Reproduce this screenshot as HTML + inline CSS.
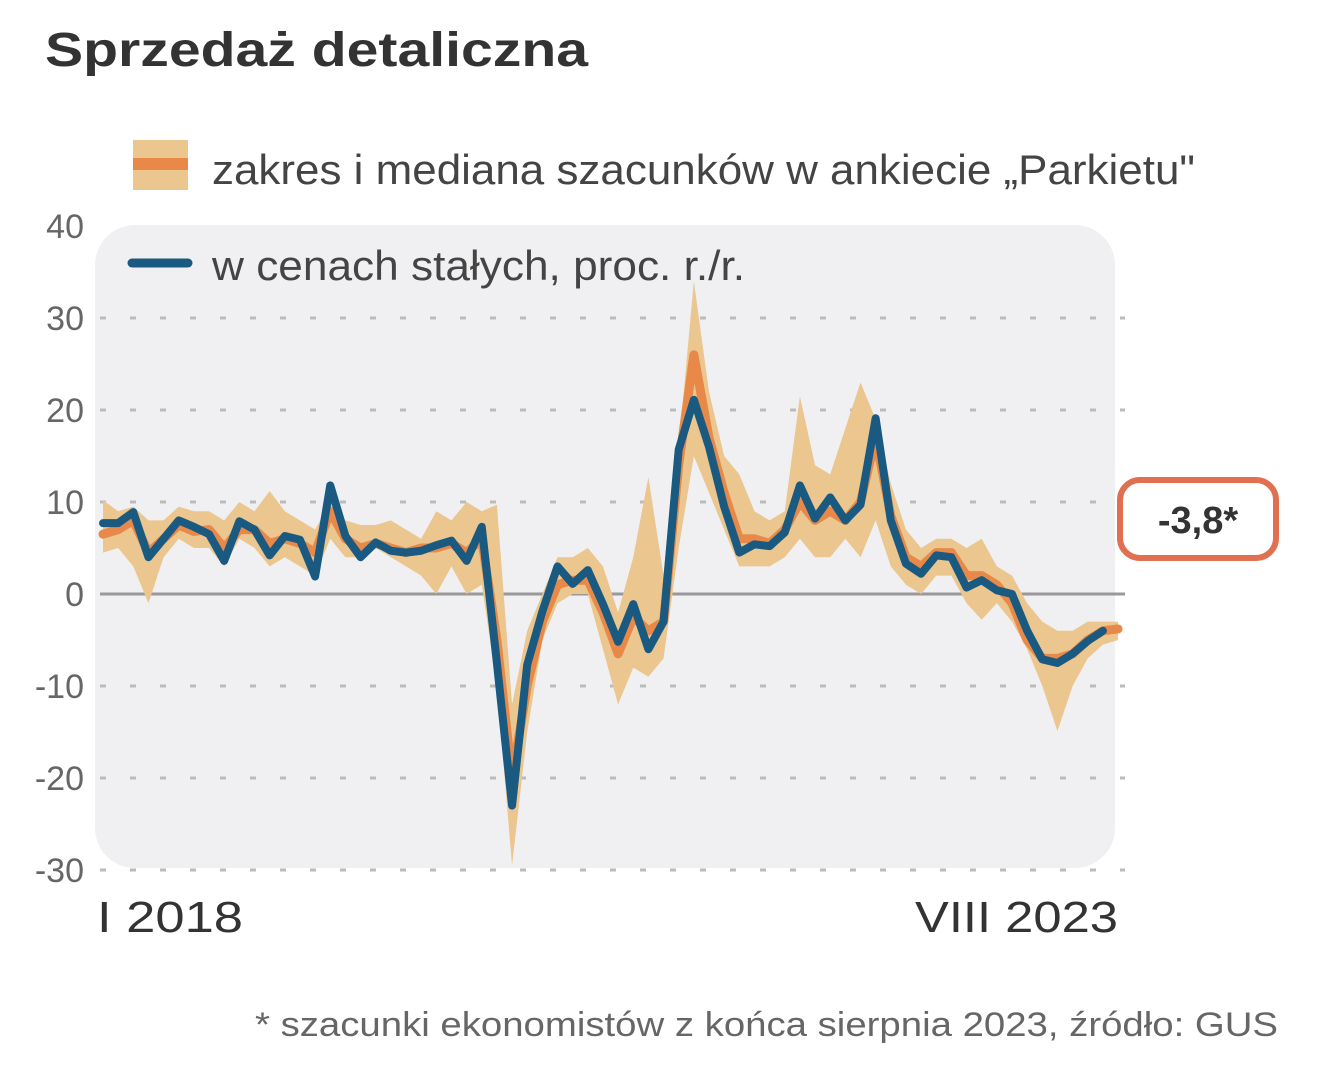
<!DOCTYPE html>
<html><head><meta charset="utf-8"><style>
body{margin:0;background:#fff;width:1318px;height:1080px;overflow:hidden;font-family:"Liberation Sans",sans-serif;}
svg{position:absolute;left:0;top:0}
</style></head><body>
<svg width="1318" height="1080">
<text x="45" y="66" font-weight="bold" font-size="48" fill="#333" textLength="543" lengthAdjust="spacingAndGlyphs">Sprzedaż detaliczna</text>
<rect x="95" y="225" width="1020" height="643" rx="40" fill="#f0f0f2"/>
<g id="grid"></g>
<g id="band"></g>
<g id="series"></g>
<g>
<rect x="133" y="140" width="55" height="50" fill="#ebc68e"/><rect x="133" y="158" width="55" height="12" fill="#e8894a"/>
<text x="212" y="184" font-size="42" fill="#444" textLength="983" lengthAdjust="spacingAndGlyphs">zakres i mediana szacunków w ankiecie „Parkietu"</text></g>
<g>
<line x1="132" y1="263" x2="188" y2="263" stroke="#1a5a80" stroke-width="9" stroke-linecap="round"/>
<text x="212" y="280" font-size="42" fill="#444" textLength="533" lengthAdjust="spacingAndGlyphs">w cenach stałych, proc. r./r.</text></g>
<g>
<rect x="1120" y="480" width="156" height="78" rx="20" fill="#fff" stroke="#e07050" stroke-width="6"/>
<text x="1198" y="533" text-anchor="middle" font-size="38" font-weight="bold" fill="#333">-3,8*</text></g>
<text x="97" y="932" font-size="44" fill="#333" textLength="146" lengthAdjust="spacingAndGlyphs">I 2018</text>
<text x="915" y="932" font-size="44" fill="#333" textLength="203" lengthAdjust="spacingAndGlyphs">VIII 2023</text>
<text x="255" y="1036" font-size="34" fill="#666" textLength="1023" lengthAdjust="spacingAndGlyphs">* szacunki ekonomistów z końca sierpnia 2023, źródło: GUS</text>
</svg>
<script>
const yTicks=[40,30,20,10,0,-10,-20,-30];
const actual=[7.7,7.7,8.9,4.0,6.0,8.0,7.3,6.5,3.6,7.9,7.0,4.2,6.3,5.9,1.9,11.8,6.3,4.0,5.6,4.7,4.5,4.7,5.3,5.8,3.6,7.3,-7.5,-23,-7.7,-1.9,3.0,1.1,2.6,-1.1,-5.2,-1.1,-6.0,-3.0,15.7,21.1,16,9.5,4.5,5.4,5.2,6.7,11.8,8.2,10.5,8.0,9.7,19.1,8.0,3.3,2.2,4.2,4.0,0.7,1.5,0.4,0.0,-4.0,-7.1,-7.5,-6.5,-5.1,-4.0];
const median=[6.5,7,8,4.5,6,7.5,6.8,7,5,7,7,5.5,6,5.5,4.5,9,6,5,5.5,5,4.5,5,5,5.5,4.5,6,-5,-20,-10,-3,1,1.5,1.5,-2,-6.5,-2.5,-4,-3,14,26,17,11,6,6,5.5,7,10,8,9,8,10,17,8.5,4,3,4.5,4.5,2,2,1,-1,-5,-7,-7,-6.5,-5,-4,-3.8];
const hi=[10.2,9,9.5,8,8,9.5,9,9,8,10,9,11.2,9,8,7,10,8,7.5,7.5,8,7,6,9,8,10,9,9.7,-12,-4,0,4,4,5,3,-2,4,12.7,2,16,34,22,15,13,9,8,9,21.5,14,13,18,23,19,12,7,5,6,6,5,6,3,2,-1,-3,-4,-4,-3,-3,-3];
const lo=[4.5,5,3,-1,4,6,5,5,3,6,5,3,4,3,2,6,4,4,5,4,3,2,0,3,0,1,-10,-29.5,-15,-5,-1,0,0,-6,-12,-8,-9,-7,5,15,11,7,3,3,3,4,6,4,4,6,4,8,3,1,0,2,2,-1,-2.8,-1,-3,-6,-10,-14.9,-10,-7,-5.5,-5];
const NS="http://www.w3.org/2000/svg";
const X=i=>103+i*15.15, Y=v=>594-v*9.2;
const grid=document.getElementById('grid');
yTicks.forEach(t=>{
  const tx=document.createElementNS(NS,'text');
  tx.setAttribute('x',84);tx.setAttribute('y',Y(t)+12);tx.setAttribute('text-anchor','end');
  tx.setAttribute('font-size','34');tx.setAttribute('fill','#666');tx.textContent=t;
  
  
  grid.appendChild(tx);
  if(t===40)return;
  const l=document.createElementNS(NS,'line');
  l.setAttribute('x1',100);l.setAttribute('x2',1125);l.setAttribute('y1',Y(t));l.setAttribute('y2',Y(t));
  if(t===0){l.setAttribute('stroke','#999');l.setAttribute('stroke-width','3');}
  else{l.setAttribute('stroke','#bbb');l.setAttribute('stroke-width','3');l.setAttribute('stroke-dasharray','6 24');}
  
  
  grid.appendChild(l);
});
const band=document.getElementById('band');
let d='M'+hi.map((v,i)=>X(i)+','+Y(v)).join(' L');
for(let i=lo.length-1;i>=0;i--)d+=' L'+X(i)+','+Y(lo[i]);
const bp=document.createElementNS(NS,'path');
bp.setAttribute('d',d+'Z');bp.setAttribute('fill','#ebc68e');


band.appendChild(bp);
const mp=document.createElementNS(NS,'path');
mp.setAttribute('d','M'+median.map((v,i)=>X(i)+','+Y(v)).join(' L'));
mp.setAttribute('fill','none');mp.setAttribute('stroke','#e8894a');mp.setAttribute('stroke-width','9');mp.setAttribute('stroke-linejoin','round');mp.setAttribute('stroke-linecap','round');


band.appendChild(mp);
const lp=document.createElementNS(NS,'path');
lp.setAttribute('d','M'+actual.map((v,i)=>X(i)+','+Y(v)).join(' L'));
lp.setAttribute('fill','none');lp.setAttribute('stroke','#1a5a80');lp.setAttribute('stroke-width','8');lp.setAttribute('stroke-linejoin','round');lp.setAttribute('stroke-linecap','round');


document.getElementById('series').appendChild(lp);
</script>
</body></html>
